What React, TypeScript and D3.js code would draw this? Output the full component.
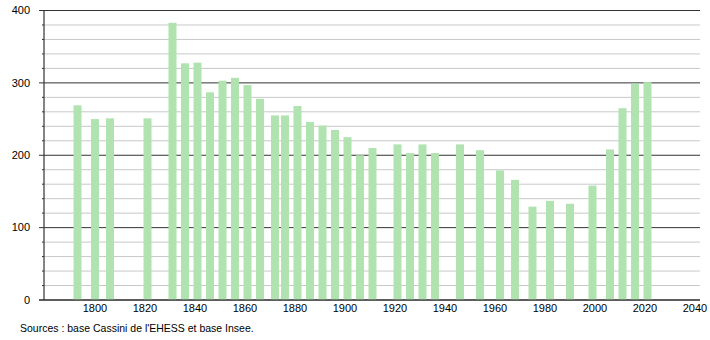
import React from "react";
import * as d3 from "d3";

const years = [1793, 1800, 1806, 1821, 1831, 1836, 1841, 1846, 1851, 1856, 1861, 1866, 1872, 1876, 1881, 1886, 1891, 1896, 1901, 1906, 1911, 1921, 1926, 1931, 1936, 1946, 1954, 1962, 1968, 1975, 1982, 1990, 1999, 2006, 2011, 2016, 2021];
const population = [269, 250, 251, 251, 383, 327, 328, 287, 303, 307, 297, 278, 255, 255, 268, 246, 241, 235, 225, 200, 210, 215, 203, 215, 203, 215, 207, 179, 166, 129, 137, 133, 158, 208, 265, 299, 301];
const xTicks = [1800, 1820, 1840, 1860, 1880, 1900, 1920, 1940, 1960, 1980, 2000, 2020, 2040];
const yMajorTicks = [0, 100, 200, 300, 400];
const yMinorTicks = d3.range(0, 401, 20);
const sourceText = "Sources : base Cassini de l'EHESS et base Insee.";

const W = 710;
const H = 340;
const left = 44;
const right = 700;
const top = 10.5;
const bottom = 300;

export default function App() {
  const x = d3.scaleLinear().domain([1779.6, 2042]).range([left, right]);
  const y = d3.scaleLinear().domain([0, 400]).range([bottom, top]);
  const barW = 8;
  const font = "'Liberation Sans', Arial, sans-serif";
  return (
    <svg width={W} height={H} style={{ position: "absolute", left: 0, top: 0 }} fontFamily={font}>
      <rect width={W} height={H} fill="#fff" />
      {yMinorTicks.filter((v) => v % 100 !== 0).map((v) => (
        <g key={"m" + v}>
          <line x1={left} x2={right} y1={y(v)} y2={y(v)} stroke="#c8c8c8" strokeWidth={1} />
          <line x1={left - 2} x2={left} y1={y(v)} y2={y(v)} stroke="#333" strokeWidth={1} />
        </g>
      ))}
      {yMajorTicks.map((v) => (
        <g key={"M" + v}>
          <line x1={left - 5} x2={right} y1={y(v)} y2={y(v)} stroke="#333" strokeWidth={1} />
          <text x={30} y={y(v)} dy="0.35em" textAnchor="end" fontSize={11} fill="#000">
            {v}
          </text>
        </g>
      ))}
      {years.map((yr, i) => (
        <rect
          key={yr}
          x={x(yr) - barW / 2}
          y={y(population[i])}
          width={barW}
          height={bottom - y(population[i])}
          fill="#b0e3b0"
        />
      ))}
      <line x1={left} x2={left} y1={top} y2={bottom} stroke="#333" strokeWidth={1.2} />
      <line x1={left - 5} x2={right} y1={bottom} y2={bottom} stroke="#222" strokeWidth={1.2} />
      {xTicks.map((t) => (
        <text key={t} x={x(t)} y={312} textAnchor="middle" fontSize={11} fill="#000">
          {t}
        </text>
      ))}
      <text x={20} y={332} fontSize={10.5} fill="#000">
        {sourceText}
      </text>
    </svg>
  );
}
